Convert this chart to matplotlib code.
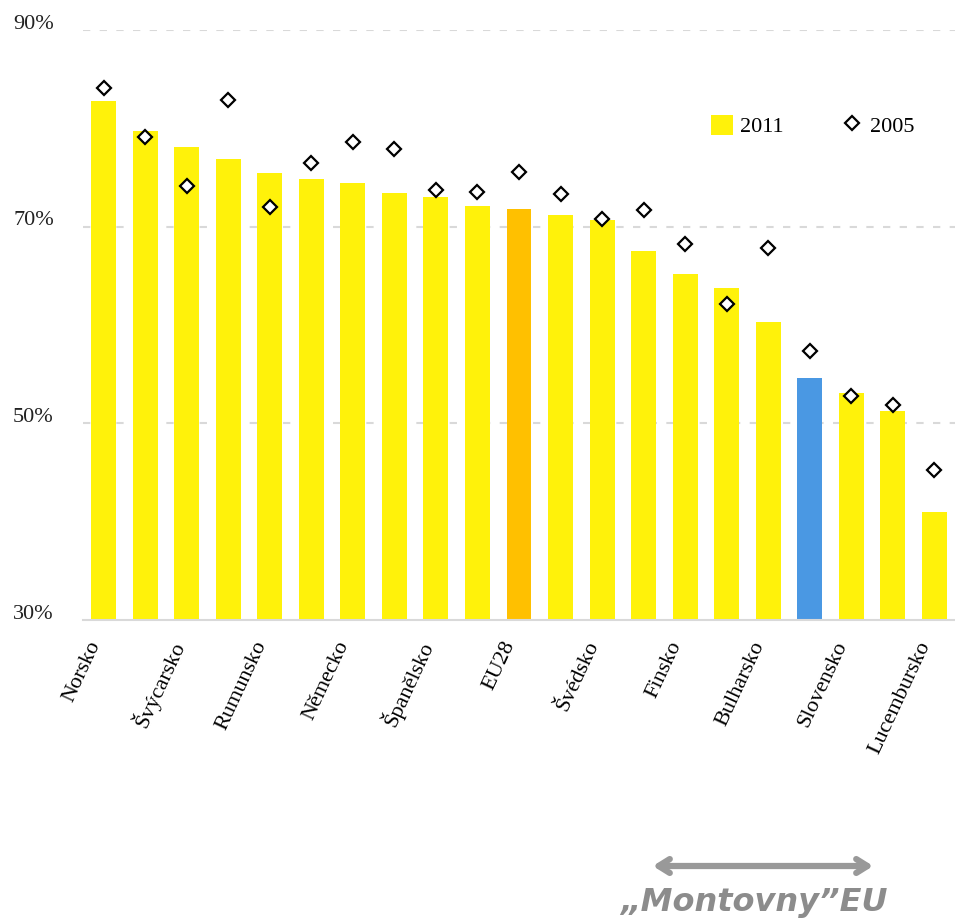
import matplotlib.pyplot as plt
from matplotlib.patches import Patch, FancyArrowPatch
from matplotlib.lines import Line2D
from matplotlib.transforms import blended_transform_factory, ScaledTranslation

# Data
labels = ["Norsko", "", "Švýcarsko", "", "Rumunsko", "", "Německo", "",
          "Španělsko", "", "EU28", "", "Švédsko", "", "Finsko", "",
          "Bulharsko", "", "Slovensko", "", "Lucembursko"]
values_2011 = [82.8, 79.7, 78.1, 76.9, 75.5, 74.8, 74.4, 73.4, 73.0, 72.1, 71.8,
               71.2, 70.7, 67.5, 65.2, 63.8, 60.3, 54.6, 53.1, 51.3, 41.0]
values_2005 = [84.1, 79.1, 74.1, 82.9, 72.0, 76.5, 78.6, 77.9, 73.7, 73.5, 75.6,
               73.3, 70.8, 71.7, 68.2, 62.1, 67.8, 57.4, 52.8, 51.9, 45.3]
yticks = [30, 50, 70, 90]

YELLOW = "#fff20a"
ORANGE = "#ffc000"
BLUE = "#4a98e3"
colors = [YELLOW] * len(values_2011)
colors[labels.index("EU28")] = ORANGE
colors[labels.index("Slovensko") - 1] = BLUE

plt.rcParams['font.family'] = ['Liberation Serif', 'DejaVu Serif']

fig = plt.figure(figsize=(9.55, 9.23), dpi=100)
ax = fig.add_axes([83 / 955, 1 - 620 / 923, (955 - 83) / 955, (620 - 30) / 923])

x = list(range(len(values_2011)))
ax.bar(x, [v - 30 for v in values_2011], bottom=30, width=0.6, color=colors, zorder=2)
ax.plot(x, values_2005, linestyle="none", marker="D", markersize=7.5,
        markerfacecolor="white", markeredgecolor="black", markeredgewidth=1.6, zorder=3)

ax.set_xlim(-0.5, 20.5)
ax.set_ylim(30, 90)

# grid
for v in yticks[1:]:
    ax.axhline(v, color="#d9d9d9", lw=1.5, ls=(0, (3.5, 4.5)), zorder=1)
for s in ["top", "right", "left"]:
    ax.spines[s].set_visible(False)
ax.spines["bottom"].set_color("#d9d9d9")
ax.spines["bottom"].set_linewidth(1.5)

# y tick labels sit just above the lines
ax.set_yticks([])
trans = blended_transform_factory(fig.transFigure, ax.transData)
for v in yticks:
    ax.text(13 / 955, v + 0.15, f"{v}%", transform=trans, ha="left", va="baseline",
            fontsize=16, color="#222222")

# x labels
ax.set_xticks(x)
ax.set_xticklabels(labels, rotation=65, ha="right", va="center",
                   rotation_mode="anchor", fontsize=16)
ax.tick_params(axis="x", length=0, pad=16)
shift = ScaledTranslation(-6 / 72, 0, fig.dpi_scale_trans)
for lab in ax.get_xticklabels():
    lab.set_transform(lab.get_transform() + shift)

# legend
handles = [Patch(facecolor=YELLOW, edgecolor="none"),
           Line2D([], [], linestyle="none", marker="D", markersize=7.5,
                  markerfacecolor="white", markeredgecolor="black", markeredgewidth=1.6)]
fig.legend(handles, ["2011", "2005"], ncol=2, frameon=False, fontsize=16,
           loc="center left", bbox_to_anchor=(691 / 955, 1 - 126 / 923),
           handlelength=1.0, handleheight=1.0, handletextpad=0.3, columnspacing=2.6)

# "Montovny" EU arrow
fig.patches.append(FancyArrowPatch(
    (650 / 955, 1 - 866 / 923), (876 / 955, 1 - 866 / 923), transform=fig.transFigure,
    arrowstyle="<->,head_length=8,head_width=5", lw=4.5, color="#999999"))
fig.text(754 / 955, 1 - 902 / 923, "\u201eMontovny\u201dEU", ha="center", va="center",
         fontsize=23, fontweight="bold", fontstyle="italic", color="#8c8c8c",
         family=["DejaVu Sans"])

fig.savefig("out.png", dpi=100)
